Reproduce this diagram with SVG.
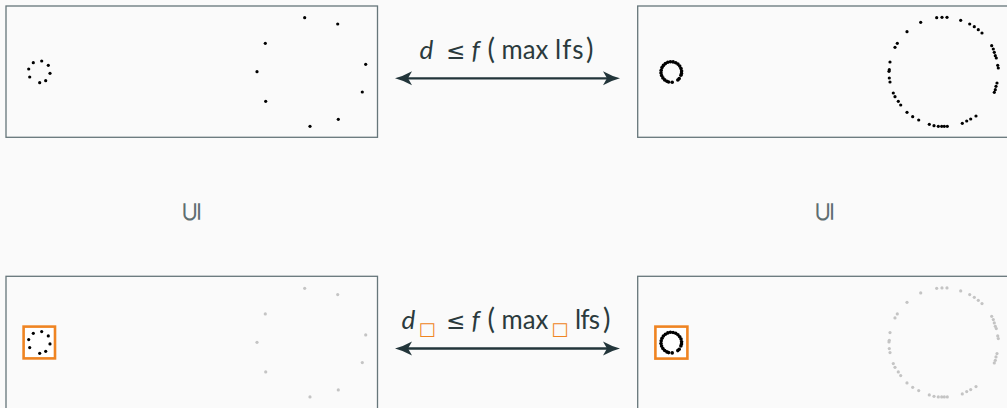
<svg xmlns="http://www.w3.org/2000/svg" xmlns:xlink="http://www.w3.org/1999/xlink" width="1007" height="408" viewBox="0 0 1007 408">
<style>
.frame{fill:#fafafa;stroke:#66767a;stroke-width:1.3}
.hl{fill:#ffffff;stroke:#ef8422;stroke-width:2.6}
.blk{fill:#000000}
.gry{fill:#c4c4c4}
.lbl{font-family:Lato,"Open Sans","DejaVu Sans",sans-serif;font-size:26px;fill:#2b3a3d}
.mi{font-style:italic}
.par{font-size:28px}
.mo{font-family:"DejaVu Sans",sans-serif;font-size:23px}
.sq{font-family:"DejaVu Sans",sans-serif;font-size:18px;fill:#ef8422}
.sub{font-family:"DejaVu Sans",sans-serif;font-weight:200;font-size:27px;fill:#5e6e71}
.conn{stroke:#22353a;stroke-width:2.3;fill:none}
</style>
<defs>
<marker id="ah" markerUnits="userSpaceOnUse" viewBox="0 -8 18 16" markerWidth="18" markerHeight="16" refX="4" refY="0" orient="auto-start-reverse">
<path d="M0,-7 Q9,-2 17,0 Q9,2 0,7 L4,0 Z" fill="#22353a"/>
</marker>
<g id="smallL">
<circle cx="33.3" cy="62.7" r="1.6"/><circle cx="41.7" cy="61" r="1.6"/><circle cx="48.3" cy="65.3" r="1.6"/><circle cx="50" cy="73.3" r="1.6"/><circle cx="45.7" cy="80.7" r="1.6"/><circle cx="39.7" cy="82.7" r="1.6"/><circle cx="29.7" cy="77" r="1.6"/><circle cx="28.7" cy="69" r="1.6"/>
</g>
<g id="bigL">
<circle cx="304.7" cy="17.7" r="1.6"/><circle cx="337.7" cy="24" r="1.6"/><circle cx="265.3" cy="43.3" r="1.6"/><circle cx="365.7" cy="64.3" r="1.6"/><circle cx="257" cy="71.7" r="1.6"/><circle cx="362.3" cy="92" r="1.6"/><circle cx="265.7" cy="101.3" r="1.6"/><circle cx="338.3" cy="119.3" r="1.6"/><circle cx="310" cy="126.3" r="1.6"/>
</g>
<g id="smallR">
<circle cx="668.6" cy="82.0" r="1.8"/><circle cx="666.9" cy="81.3" r="1.8"/><circle cx="664.7" cy="79.9" r="1.8"/><circle cx="662.9" cy="77.9" r="1.8"/><circle cx="661.6" cy="75.5" r="1.8"/><circle cx="661" cy="72.9" r="1.8"/><circle cx="661.2" cy="70.2" r="1.8"/><circle cx="662" cy="67.6" r="1.8"/><circle cx="663.4" cy="65.4" r="1.8"/><circle cx="665.4" cy="63.6" r="1.8"/><circle cx="667.8" cy="62.3" r="1.8"/><circle cx="670.4" cy="61.7" r="1.8"/><circle cx="673.1" cy="61.9" r="1.8"/><circle cx="675.7" cy="62.7" r="1.8"/><circle cx="677.9" cy="64.1" r="1.8"/><circle cx="679.7" cy="66.1" r="1.8"/><circle cx="681" cy="68.5" r="1.8"/><circle cx="681.6" cy="71.1" r="1.8"/><circle cx="681.5" cy="73.4" r="1.8"/><circle cx="680.9" cy="75.3" r="1.8"/><circle cx="679.2" cy="78.6" r="1.8"/><circle cx="677.8" cy="80.0" r="1.8"/><circle cx="672.2" cy="82.3" r="1.8"/>
</g>
<g id="bigR">
<circle cx="920.7" cy="22.3" r="1.6"/><circle cx="936.7" cy="17.7" r="1.6"/><circle cx="942" cy="17.3" r="1.6"/><circle cx="947" cy="17.3" r="1.6"/><circle cx="960.7" cy="20.3" r="1.6"/><circle cx="969.7" cy="24" r="1.6"/><circle cx="974.3" cy="26.7" r="1.6"/><circle cx="978.3" cy="29.7" r="1.6"/><circle cx="982" cy="33" r="1.6"/><circle cx="991.7" cy="45.7" r="1.6"/><circle cx="993.3" cy="49" r="1.6"/><circle cx="994.3" cy="52.3" r="1.6"/><circle cx="995.3" cy="55.7" r="1.6"/><circle cx="996.3" cy="58" r="1.6"/><circle cx="997.7" cy="65.3" r="1.6"/><circle cx="998.3" cy="68" r="1.6"/><circle cx="997" cy="83" r="1.6"/><circle cx="996" cy="86.3" r="1.6"/><circle cx="995.3" cy="89.7" r="1.6"/><circle cx="994.3" cy="92.3" r="1.6"/><circle cx="976" cy="116" r="1.6"/><circle cx="970.7" cy="119" r="1.6"/><circle cx="966.7" cy="121" r="1.6"/><circle cx="962.3" cy="123.3" r="1.6"/><circle cx="929.3" cy="124.3" r="1.6"/><circle cx="934" cy="125.7" r="1.6"/><circle cx="938.3" cy="126.3" r="1.6"/><circle cx="941.7" cy="126.3" r="1.6"/><circle cx="944.3" cy="126.3" r="1.6"/><circle cx="947.3" cy="126.3" r="1.6"/><circle cx="918.7" cy="120" r="1.6"/><circle cx="912.7" cy="116.7" r="1.6"/><circle cx="907" cy="112.3" r="1.6"/><circle cx="900.7" cy="105" r="1.6"/><circle cx="898.3" cy="101.3" r="1.6"/><circle cx="895" cy="96.7" r="1.6"/><circle cx="893.3" cy="93" r="1.6"/><circle cx="890" cy="82" r="1.6"/><circle cx="889.3" cy="78" r="1.6"/><circle cx="889" cy="71.3" r="1.6"/><circle cx="889.3" cy="69.7" r="1.6"/><circle cx="890" cy="62" r="1.6"/><circle cx="895" cy="47.3" r="1.6"/><circle cx="897.3" cy="43.3" r="1.6"/><circle cx="907" cy="31.7" r="1.6"/>
</g>
</defs>
<rect x="0" y="0" width="1007" height="408" fill="#fafafa"/>

<g id="node-top-left">
<rect class="frame" x="6" y="6" width="371.5" height="131.3"/>
<use xlink:href="#smallL" class="blk"/>
<use xlink:href="#bigL" class="blk"/>
</g>

<g id="node-top-right">
<rect class="frame" x="637.7" y="6" width="400" height="131.3"/>
<use xlink:href="#smallR" class="blk"/>
<use xlink:href="#bigR" class="blk"/>
</g>

<g id="node-bottom-left">
<rect class="frame" x="6" y="276.3" width="371.5" height="160"/>
<rect class="hl" x="23.6" y="326.6" width="31.4" height="31.8"/>
<g transform="translate(0,270.6)">
<use xlink:href="#smallL" class="blk"/>
<use xlink:href="#bigL" class="gry"/>
</g>
</g>

<g id="node-bottom-right">
<rect class="frame" x="637.7" y="276.3" width="400" height="160"/>
<rect class="hl" x="655.4" y="326.6" width="32" height="32"/>
<g transform="translate(0,270.6)">
<use xlink:href="#smallR" class="blk"/>
<use xlink:href="#bigR" class="gry"/>
</g>
</g>

<g id="connectors">
<line class="conn" x1="408" y1="78.3" x2="607" y2="78.3" marker-start="url(#ah)" marker-end="url(#ah)"/>
<line class="conn" x1="408" y1="348.5" x2="607" y2="348.5" marker-start="url(#ah)" marker-end="url(#ah)"/>
</g>

<g id="label-top" class="lbl">
<text x="419.5" y="58.5" class="mi">d</text>
<text x="446" y="58.5" class="mo">≤</text>
<text x="471.5" y="58.5" class="mi">f</text>
<text x="487.5" y="58.5" class="par">(</text>
<text x="501.5" y="58.5" textLength="46.8" lengthAdjust="spacingAndGlyphs">max</text>
<text x="555" y="58.5" textLength="28.5" lengthAdjust="spacing">lfs</text>
<text x="586" y="58.5" class="par">)</text>
</g>

<g id="label-bottom" class="lbl">
<text x="401.5" y="329" class="mi">d</text>
<text x="418.5" y="334.5" class="sq">□</text>
<text x="446" y="329" class="mo">≤</text>
<text x="471.5" y="329" class="mi">f</text>
<text x="487.5" y="329" class="par">(</text>
<text x="501.5" y="329" textLength="46.8" lengthAdjust="spacingAndGlyphs">max</text>
<text x="551.2" y="334.5" class="sq">□</text>
<text x="575" y="329" textLength="25" lengthAdjust="spacing">lfs</text>
<text x="603" y="329" class="par">)</text>
</g>

<g id="subset-left">
<text class="sub" transform="translate(190.8,211.7) rotate(-90)" text-anchor="middle" dy="0.33em">⊆</text>
</g>
<g id="subset-right">
<text class="sub" transform="translate(824,211.7) rotate(-90)" text-anchor="middle" dy="0.33em">⊆</text>
</g>
</svg>
